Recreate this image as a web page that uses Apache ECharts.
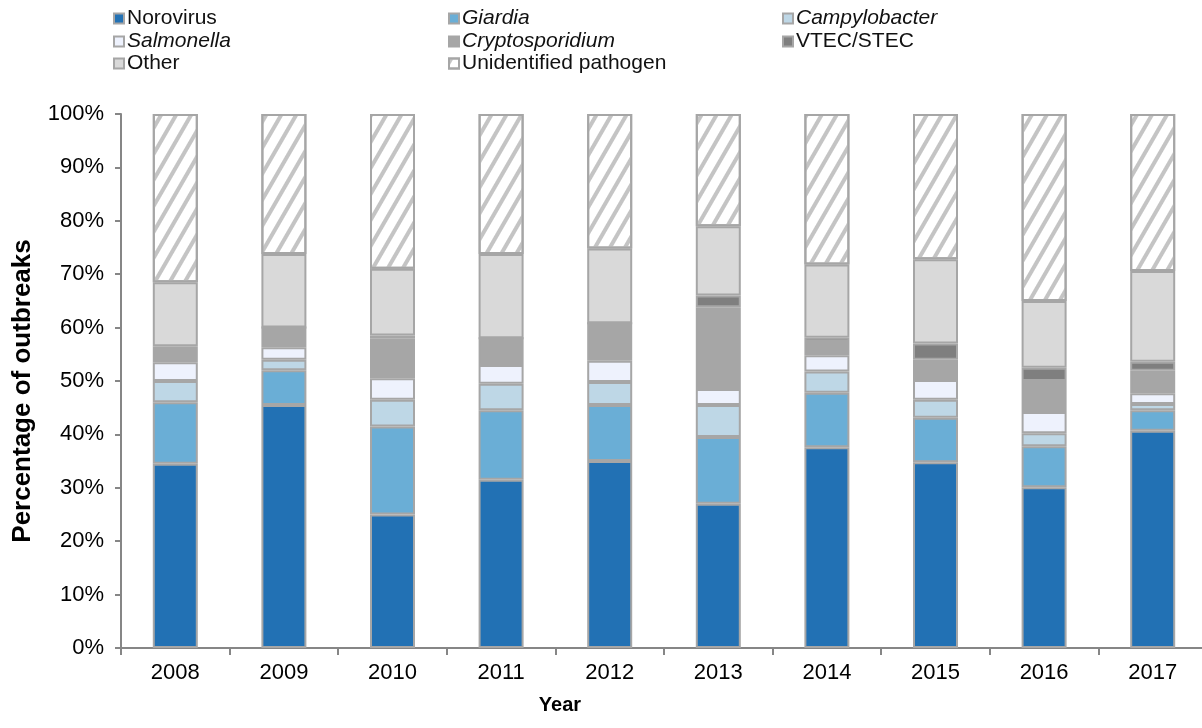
<!DOCTYPE html>
<html>
<head>
<meta charset="utf-8">
<script src="https://cdn.jsdelivr.net/npm/echarts@6/dist/echarts.min.js"></script>
<style>
html,body{margin:0;padding:0;background:#fff;}
#chart{width:1202px;height:728px;}
</style>
</head>
<body>
<div id="chart"></div>
<script>
const years = ['2008','2009','2010','2011','2012','2013','2014','2015','2016','2017'];
const yTicks = ['0%','10%','20%','30%','40%','50%','60%','70%','80%','90%','100%'];
const norovirus      = [34.5, 45.5, 25.0, 31.5, 35.0, 27.0, 37.6, 34.8, 30.1, 40.7];
const giardia        = [11.5,  6.5, 16.5, 13.0, 10.5, 12.5, 10.2,  8.3,  7.7,  3.8];
const campylobacter  = [ 4.0,  2.0,  5.0,  5.0,  4.3,  6.0,  4.0,  3.4,  2.4,  1.2];
const salmonella     = [ 3.5,  2.3,  4.0,  3.5,  4.0,  3.0,  3.0,  3.7,  4.0,  2.0];
const cryptosporidium= [ 2.5,  3.7,  7.5,  5.0,  7.0, 15.3,  2.5,  3.8,  5.8,  4.2];
const vtec           = [ 0.5,  0.0,  0.5,  0.0,  0.0,  2.2,  0.8,  3.0,  2.5,  1.7];
const other          = [12.0, 13.8, 12.5, 15.8, 14.0, 13.0, 13.7, 15.8, 12.5, 17.0];
const unidentified   = [31.5, 26.2, 29.0, 26.2, 25.2, 21.0, 28.2, 27.2, 35.0, 29.4];

const seriesDefs = [
  {name:'Norovirus', data:norovirus, color:'#2271b4', italic:false},
  {name:'Giardia', data:giardia, color:'#6aaed6', italic:true},
  {name:'Campylobacter', data:campylobacter, color:'#bed7e6', italic:true},
  {name:'Salmonella', data:salmonella, color:'#eef2fd', italic:true},
  {name:'Cryptosporidium', data:cryptosporidium, color:'#a6a6a6', italic:true},
  {name:'VTEC/STEC', data:vtec, color:'#7f7f7f', italic:false},
  {name:'Other', data:other, color:'#d9d9d9', italic:false},
  {name:'Unidentified pathogen', data:unidentified, color:'#ffffff', italic:false, hatch:true}
];

const FONT = 'Liberation Sans, Arial, sans-serif';
const legendPos = [
  [113, 8], [448, 8], [782, 8],
  [113, 31], [448, 31], [782, 31],
  [113, 53], [448, 53]
];

const legends = seriesDefs.map((s, i) => ({
  data: [s.name],
  left: legendPos[i][0],
  top: legendPos[i][1],
  padding: 0,
  icon: 'rect',
  itemWidth: 10,
  itemHeight: 10,
  itemGap: 0,
  selectedMode: false,
  textStyle: {fontFamily: FONT, fontSize: 21, color: '#111', fontStyle: s.italic ? 'italic' : 'normal', padding:[0,0,0,-2]}
}));

const series = seriesDefs.map(s => {
  const itemStyle = {color: s.color, borderColor: '#a6a6a6', borderWidth: 2};
  if (s.hatch) {
    itemStyle.decal = {
      symbol: 'rect',
      symbolSize: 1,
      color: '#c4c4c4',
      dashArrayX: [1, 0],
      dashArrayY: [4, 9],
      rotation: -Math.PI / 3
    };
  }
  return {
    name: s.name,
    type: 'bar',
    stack: 'total',
    barWidth: 45,
    data: s.data,
    itemStyle: itemStyle,
    emphasis: {disabled: true},
    animation: false
  };
});

const chart = echarts.init(document.getElementById('chart'), null, {renderer: 'canvas'});
chart.setOption({
  animation: false,
  textStyle: {fontFamily: FONT},
  legend: legends,
  grid: {left: 121, width: 1086, top: 114, bottom: 80, containLabel: false, outerBoundsMode: 'none'},
  xAxis: {
    type: 'category',
    data: years,
    name: 'Year',
    nameLocation: 'middle',
    nameGap: 47,
    nameTextStyle: {fontFamily: FONT, fontSize: 20, fontWeight: 'bold', color: '#000', padding: [0, 208, 0, 0]},
    axisLine: {lineStyle: {color: '#868686', width: 2}},
    axisTick: {show: true, length: 7, lineStyle: {color: '#868686', width: 2}},
    axisLabel: {fontFamily: FONT, fontSize: 22, color: '#000', margin: 14}
  },
  yAxis: {
    type: 'value',
    min: 0,
    max: 100,
    interval: 10,
    name: 'Percentage of outbreaks',
    nameLocation: 'middle',
    nameGap: 85,
    nameTextStyle: {fontFamily: FONT, fontSize: 26, fontWeight: 'bold', color: '#000', padding: [0, 20, 0, 0]},
    axisLine: {show: true, lineStyle: {color: '#868686', width: 2}},
    axisTick: {show: true, length: 6, lineStyle: {color: '#868686', width: 2}},
    splitLine: {show: false},
    axisLabel: {
      fontFamily: FONT, fontSize: 22, color: '#000', margin: 17,
      formatter: function (v) { return yTicks[Math.round(v / 10)]; }
    }
  },
  series: series
});
</script>
</body>
</html>
